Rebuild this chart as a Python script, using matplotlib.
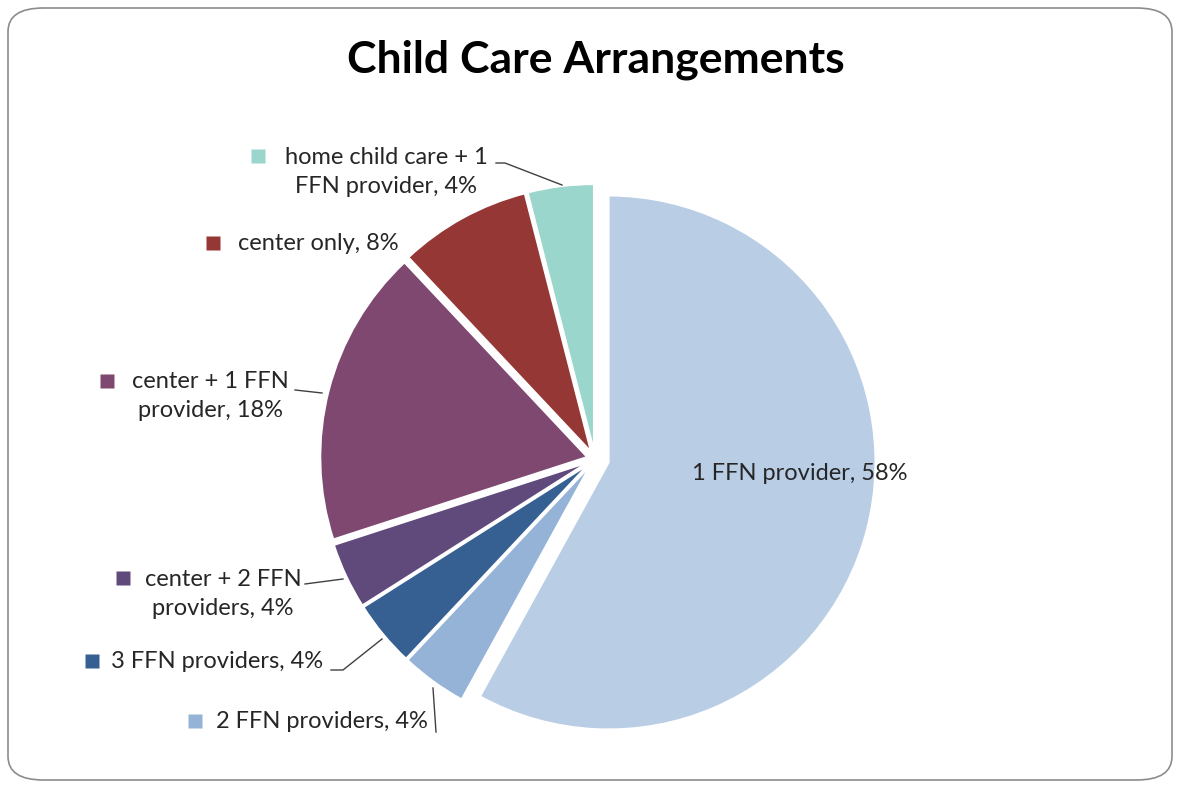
import matplotlib.pyplot as plt
from matplotlib.patches import FancyBboxPatch

plt.rc("font", family=["Lato", "DejaVu Sans"])

# data
labels = ["1 FFN provider", "2 FFN providers", "3 FFN providers",
          "center + 2 FFN\nproviders", "center + 1 FFN\nprovider",
          "center only", "home child care + 1\nFFN provider"]
shares = [58, 4, 4, 4, 18, 8, 4]
colors = ["#B9CDE5", "#95B3D7", "#376092", "#604A7B", "#7E4870",
          "#953735", "#9AD6CC"]

W, H = 1180, 788
fig = plt.figure(figsize=(W / 100, H / 100), dpi=100)
ax = fig.add_axes([0, 0, 1, 1])

# rounded chart frame
fig.patches.append(FancyBboxPatch((8 / W, 8 / H), 1164 / W, 772 / H,
                                  boxstyle="round,pad=0,rounding_size=0.03",
                                  transform=fig.transFigure, fc="white",
                                  ec="#8c8c8c", lw=1.2, zorder=-1))

# pie in pixel units (y measured from the bottom)
cx, cy, r = 595, H - 459, 267
explode = [14, 8, 8, 8, 8, 8, 8]
wedges, _ = ax.pie(shares, colors=colors, startangle=90, counterclock=False,
                   explode=explode, radius=r, center=(cx, cy),
                   wedgeprops=dict(edgecolor="white", linewidth=1.5))
ax.set_xlim(0, W)
ax.set_ylim(0, H)
ax.set_aspect("equal")
ax.axis("off")

ax.text(596, H - 60, "Child Care Arrangements", ha="center", va="center",
        fontsize=32, fontweight="bold")

fs = 17
# label text centres (pixel coords, y from top), key square position
lab_pos = [(800, 473, None), (322, 722, (195, 721)), (217, 662, (92, 661)),
           (223, 594, (123, 578)), (210, 396, (107, 381)),
           (318, 243, (213, 243)), (386, 172, (258, 156))]
leaders = [None,
           [(436, 732), (433, 688)],
           [(331, 670), (343, 670), (382, 639)],
           [(305, 584), (343, 579)],
           [(295, 390), (322, 393)],
           None,
           [(496, 163), (505, 163), (562, 185)]]

for i, (lab, val) in enumerate(zip(labels, shares)):
    tx, ty, key = lab_pos[i]
    txt = f"{lab}, {val}%"
    ax.text(tx, H - ty, txt, ha="center", va="center", fontsize=fs,
            color="#262626", linespacing=1.45)
    if key is not None:
        ax.plot(key[0], H - key[1], "s", ms=10, color=colors[i], mec="none")
    if leaders[i] is not None:
        xs = [p[0] for p in leaders[i]]
        ys = [H - p[1] for p in leaders[i]]
        ax.plot(xs, ys, color="#404040", lw=1)

fig.savefig("out.png", dpi=100)
